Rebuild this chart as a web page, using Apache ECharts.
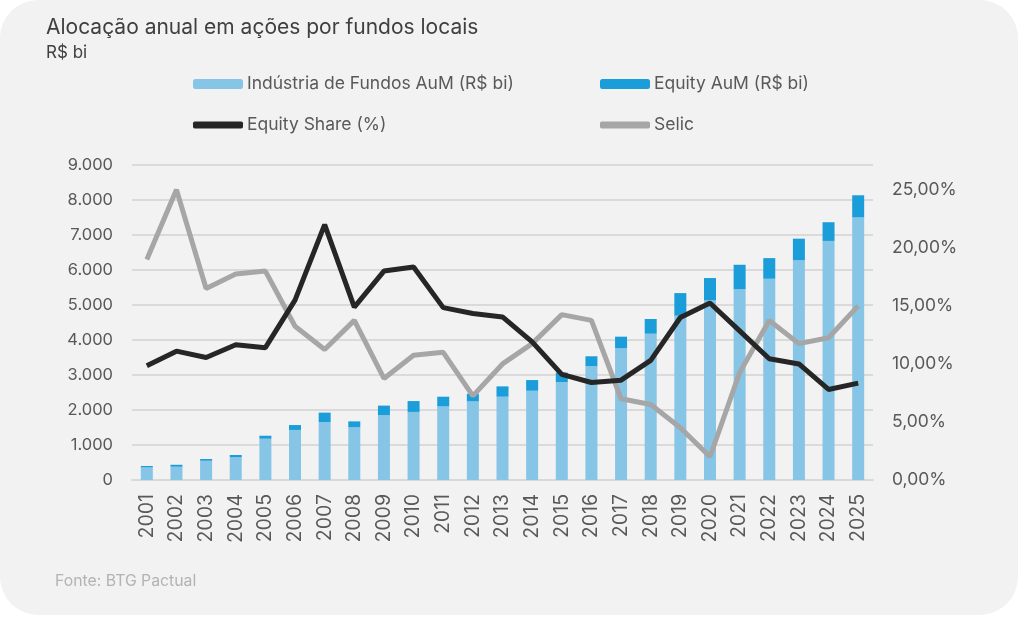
<!DOCTYPE html>
<html>
<head>
<meta charset="utf-8">
<script src="https://cdn.jsdelivr.net/npm/echarts@6/dist/echarts.min.js"></script>
<style>
html,body{margin:0;padding:0;background:#ffffff;}
#card{position:absolute;left:0;top:0;width:1018px;height:615px;background:#f2f2f2;border-radius:38px;}
#chart{position:absolute;left:0;top:0;width:1024px;height:619px;}
</style>
</head>
<body>
<div id="card"></div>
<div id="chart"></div>
<script>
const years = ['2001','2002','2003','2004','2005','2006','2007','2008','2009','2010','2011','2012','2013','2014','2015','2016','2017','2018','2019','2020','2021','2022','2023','2024','2025'];
const industryAuM = [360, 380, 550, 650, 1180, 1430, 1655, 1505, 1850, 1945, 2105, 2245, 2380, 2550, 2800, 3250, 3770, 4180, 4695, 5130, 5450, 5750, 6275, 6830, 7505];
const equityAuM = [40, 55, 50, 65, 85, 140, 270, 170, 275, 310, 275, 220, 295, 305, 270, 285, 325, 420, 645, 640, 700, 590, 620, 535, 630];
const equityShare = [9.85, 11.1, 10.55, 11.65, 11.4, 15.5, 22.0, 14.9, 18.0, 18.35, 14.85, 14.35, 14.05, 11.9, 9.1, 8.4, 8.6, 10.3, 14.0, 15.25, 12.85, 10.45, 10.0, 7.8, 8.35];
const selic = [19, 25, 16.5, 17.75, 18, 13.25, 11.25, 13.75, 8.75, 10.75, 11, 7.25, 10, 11.75, 14.25, 13.75, 7, 6.5, 4.5, 2, 9.25, 13.75, 11.75, 12.25, 15];

const FONT = 'Inter';
const TXT = '#595959';

const chart = echarts.init(document.getElementById('chart'));
const legendBase = {
  itemWidth: 50, itemHeight: 10, itemGap: 0,
  textStyle: {fontFamily: FONT, fontSize: 17.5, color: TXT, padding: [0,0,0,-1]},
  selectedMode: false
};
chart.setOption({
  backgroundColor: 'transparent',
  animation: false,
  textStyle: {fontFamily: FONT},
  title: [
    {text: 'Alocação anual em ações por fundos locais', left: 41, top: 12,
     textStyle: {fontFamily: FONT, fontSize: 21, fontWeight: 'normal', color: '#404040'}},
    {text: 'R$ bi', left: 41, top: 39,
     textStyle: {fontFamily: FONT, fontSize: 17, fontWeight: 'normal', color: '#404040'}}
  ],
  legend: [
    Object.assign({}, legendBase, {left: 188, top: 70, data: ['Indústria de Fundos AuM (R$ bi)']}),
    Object.assign({}, legendBase, {left: 595, top: 70, data: ['Equity AuM (R$ bi)']}),
    Object.assign({}, legendBase, {left: 188, top: 111, itemHeight: 7, icon: 'roundRect', data: ['Equity Share (%)']}),
    Object.assign({}, legendBase, {left: 595, top: 111, itemHeight: 7, icon: 'roundRect', data: ['Selic']})
  ],
  graphic: [
    {type: 'text', left: 55, top: 573, style: {text: 'Fonte: BTG Pactual', fontFamily: FONT, fontSize: 15.8, fill: '#b3b3b3'}}
  ],
  grid: {left: 132, right: 151, top: 165, bottom: 139, containLabel: false},
  xAxis: {
    type: 'category', data: years,
    axisLine: {lineStyle: {color: '#d9d9d9', width: 2}},
    axisTick: {show: false},
    axisLabel: {rotate: 90, fontSize: 19.5, color: TXT, fontFamily: FONT, margin: 14}
  },
  yAxis: [
    {type: 'value', min: 0, max: 9000, interval: 1000,
     axisLine: {show: false}, axisTick: {show: false},
     splitLine: {lineStyle: {color: '#dadada', width: 2}},
     axisLabel: {fontSize: 16.5, color: TXT, fontFamily: FONT, margin: 19,
       formatter: v => String(v).replace(/\B(?=(\d{3})+(?!\d))/g, '.')}},
    {type: 'value', min: 0, max: 27.14, interval: 5,
     axisLine: {show: false}, axisTick: {show: false}, splitLine: {show: false},
     axisLabel: {fontSize: 17.5, color: TXT, fontFamily: FONT, margin: 19,
       formatter: v => (Math.abs(v % 5) < 1e-6 ? v.toFixed(2).replace('.', ',') + '%' : '')}}
  ],
  series: [
    {name: 'Indústria de Fundos AuM (R$ bi)', type: 'bar', stack: 'aum', barWidth: 12,
     itemStyle: {color: '#86c5e5'}, data: industryAuM},
    {name: 'Equity AuM (R$ bi)', type: 'bar', stack: 'aum', barWidth: 12,
     itemStyle: {color: '#1a9dd9'}, data: equityAuM},
    {name: 'Equity Share (%)', type: 'line', yAxisIndex: 1, showSymbol: false, symbol: 'none',
     itemStyle: {color: '#262626'}, lineStyle: {color: '#262626', width: 5}, z: 4, data: equityShare},
    {name: 'Selic', type: 'line', yAxisIndex: 1, showSymbol: false, symbol: 'none',
     itemStyle: {color: '#a6a6a6'}, lineStyle: {color: '#a6a6a6', width: 5}, z: 3, data: selic}
  ]
});
</script>
</body>
</html>
